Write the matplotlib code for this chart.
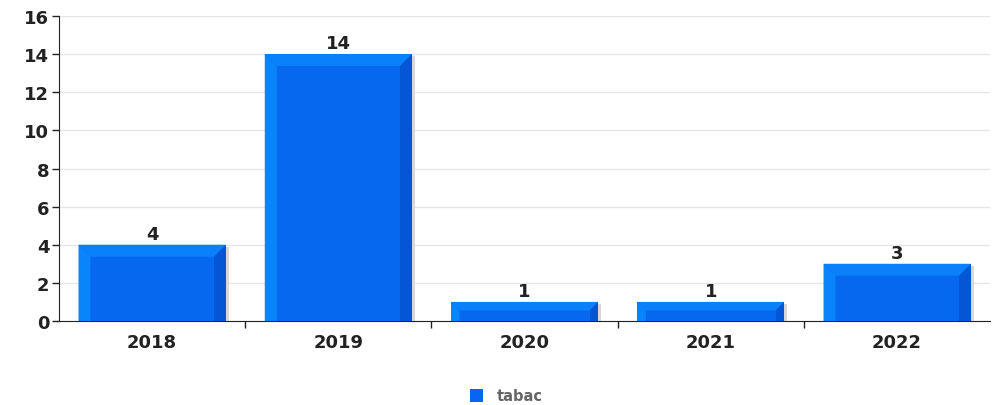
import matplotlib.pyplot as plt
from matplotlib.patches import Polygon, Rectangle
import numpy as np

years = ['2018', '2019', '2020', '2021', '2022']
counts = [4, 14, 1, 1, 3]
series_name = 'tabac'

y_max = 16
bar_w = 0.79

fig = plt.figure(figsize=(9.96, 4.06), dpi=100)
ax = fig.add_axes([0.0592, 0.207, 0.935, 0.751])

ax.set_xlim(-0.5, len(years) - 0.5)
ax.set_ylim(0, y_max)

# pixel -> data conversion for the bevel
px_x = (len(years)) / (0.935 * 996)
px_y = y_max / (0.751 * 406)
bx = 12 * px_x
by = 12 * px_y

x = np.arange(len(years))
for xi, v in zip(x, counts):
    l = xi - bar_w / 2
    r = xi + bar_w / 2
    byy = min(by, v * 0.45)
    bxx = min(bx, byy / px_y * px_x)
    # shadow
    ax.add_patch(Rectangle((l + 3 * px_x, 0), bar_w, v - 2 * px_y,
                           facecolor='#d8d8d8', edgecolor='none', zorder=2))
    # main face
    ax.bar(xi, v, width=bar_w, color='#0668ee', zorder=3)
    # left strip
    ax.add_patch(Polygon([(l, 0), (l, v), (l + bxx, v - byy), (l + bxx, 0)],
                         closed=True, facecolor='#0a84fb', edgecolor='none', zorder=4))
    # top strip
    ax.add_patch(Polygon([(l, v), (r, v), (r - bxx, v - byy), (l + bxx, v - byy)],
                         closed=True, facecolor='#0a80fa', edgecolor='none', zorder=4))
    # right strip
    ax.add_patch(Polygon([(r, v), (r, 0), (r - bxx, 0), (r - bxx, v - byy)],
                         closed=True, facecolor='#0556d4', edgecolor='none', zorder=4))
    ax.text(xi, v + 0.1, str(v), ha='center', va='bottom',
            fontsize=13, fontweight='bold', color='#222222', zorder=5)

ax.set_yticks(range(0, y_max + 1, 2))
ax.set_yticklabels([str(t) for t in range(0, y_max + 1, 2)],
                   fontsize=13, fontweight='bold', color='#222222')
ax.set_xticks(x)
ax.set_xticklabels(years, fontsize=13, fontweight='bold', color='#222222')
ax.set_xticks(np.arange(0.5, len(years) - 0.5), minor=True)
ax.tick_params(axis='x', which='major', length=0, pad=9)
ax.tick_params(axis='x', which='minor', length=5, width=1, color='#222222')
ax.tick_params(axis='y', length=5, width=1, color='#222222', pad=2)

ax.grid(axis='y', color='#e6e6e6', linewidth=1, zorder=0)
ax.set_axisbelow(True)
for s in ['top', 'right']:
    ax.spines[s].set_visible(False)
ax.spines['left'].set_color('#222222')
ax.spines['bottom'].set_color('#222222')

fig.patches.append(Rectangle((0.472, 0.0074), 0.013, 0.032, transform=fig.transFigure,
                             facecolor='#0666f0', edgecolor='none'))
fig.text(0.499, 0.0246, series_name, fontsize=10.5, fontweight='bold',
         color='#666666', va='center', ha='left')

plt.savefig('out.png', dpi=100)
